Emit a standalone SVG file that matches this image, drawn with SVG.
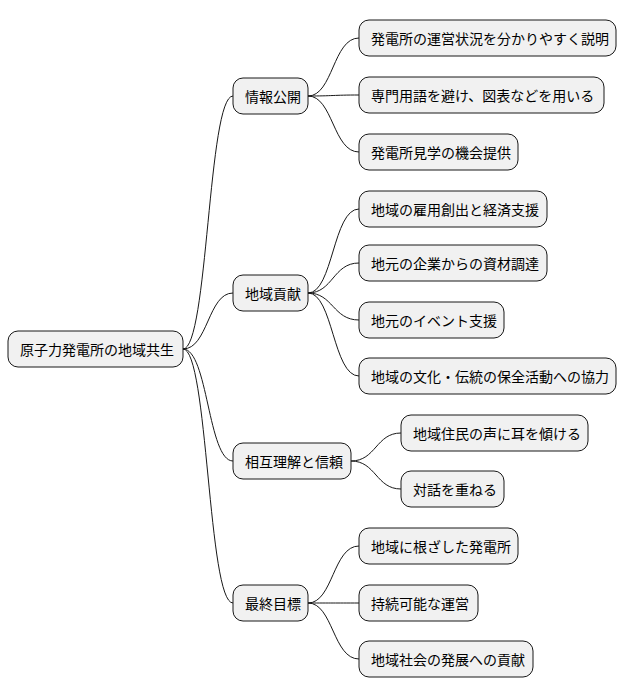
<svg xmlns="http://www.w3.org/2000/svg" width="628" height="696" viewBox="0 0 628 696">
<style>
rect{fill:#f1f1f1;stroke:#181818;stroke-width:1}
text{font-family:"Noto Sans CJK JP","Noto Sans CJK SC",sans-serif;font-size:14px;fill:#000;dominant-baseline:central}
#connectors path{fill:none;stroke:#181818;stroke-width:1}
</style>
<rect width="628" height="696" style="fill:#fff;stroke:none"/>
<g id="connectors">
<path d="M183 349 C208 349 208 96 233 96"/>
<path d="M183 349 C208 349 208 293 233 293"/>
<path d="M183 349 C208 349 208 461 233 461"/>
<path d="M183 349 C208 349 208 603 233 603"/>
<path d="M308 96 C333 96 333 38 359 38"/>
<path d="M308 96 C333 96 333 95 359 95"/>
<path d="M308 96 C333 96 333 152 359 152"/>
<path d="M308 293 C333 293 333 209 359 209"/>
<path d="M308 293 C333 293 333 263 359 263"/>
<path d="M308 293 C333 293 333 320 359 320"/>
<path d="M308 293 C333 293 333 376 359 376"/>
<path d="M351 461 C376 461 376 433 401 433"/>
<path d="M351 461 C376 461 376 489 401 489"/>
<path d="M308 603 C333 603 333 546 359 546"/>
<path d="M308 603 C333 603 333 603 359 603"/>
<path d="M308 603 C333 603 333 659 359 659"/>
</g>
<g id="root"><rect x="8" y="331" width="175" height="36" rx="10"/><text x="20" y="349">原子力発電所の地域共生</text></g>
<g id="n1"><rect x="233" y="78" width="75" height="36" rx="10"/><text x="245" y="96">情報公開</text></g>
<g id="n2"><rect x="233" y="275" width="75" height="36" rx="10"/><text x="245" y="293">地域貢献</text></g>
<g id="n3"><rect x="233" y="443" width="118" height="36" rx="10"/><text x="245" y="461">相互理解と信頼</text></g>
<g id="n4"><rect x="233" y="585" width="75" height="36" rx="10"/><text x="245" y="603">最終目標</text></g>
<g id="n11"><rect x="359" y="20" width="257" height="36" rx="10"/><text x="371" y="38">発電所の運営状況を分かりやすく説明</text></g>
<g id="n12"><rect x="359" y="77" width="245" height="36" rx="10"/><text x="371" y="95">専門用語を避け、図表などを用いる</text></g>
<g id="n13"><rect x="359" y="134" width="159" height="36" rx="10"/><text x="371" y="152">発電所見学の機会提供</text></g>
<g id="n21"><rect x="359" y="191" width="188" height="36" rx="10"/><text x="371" y="209">地域の雇用創出と経済支援</text></g>
<g id="n22"><rect x="359" y="245" width="188" height="36" rx="10"/><text x="371" y="263">地元の企業からの資材調達</text></g>
<g id="n23"><rect x="359" y="302" width="145" height="36" rx="10"/><text x="371" y="320">地元のイベント支援</text></g>
<g id="n24"><rect x="359" y="358" width="257" height="36" rx="10"/><text x="371" y="376">地域の文化・伝統の保全活動への協力</text></g>
<g id="n31"><rect x="401" y="415" width="187" height="36" rx="10"/><text x="413" y="433">地域住民の声に耳を傾ける</text></g>
<g id="n32"><rect x="401" y="471" width="103" height="36" rx="10"/><text x="413" y="489">対話を重ねる</text></g>
<g id="n41"><rect x="359" y="528" width="159" height="36" rx="10"/><text x="371" y="546">地域に根ざした発電所</text></g>
<g id="n42"><rect x="359" y="585" width="119" height="36" rx="10"/><text x="371" y="603">持続可能な運営</text></g>
<g id="n43"><rect x="359" y="641" width="174" height="36" rx="10"/><text x="371" y="659">地域社会の発展への貢献</text></g>
</svg>
